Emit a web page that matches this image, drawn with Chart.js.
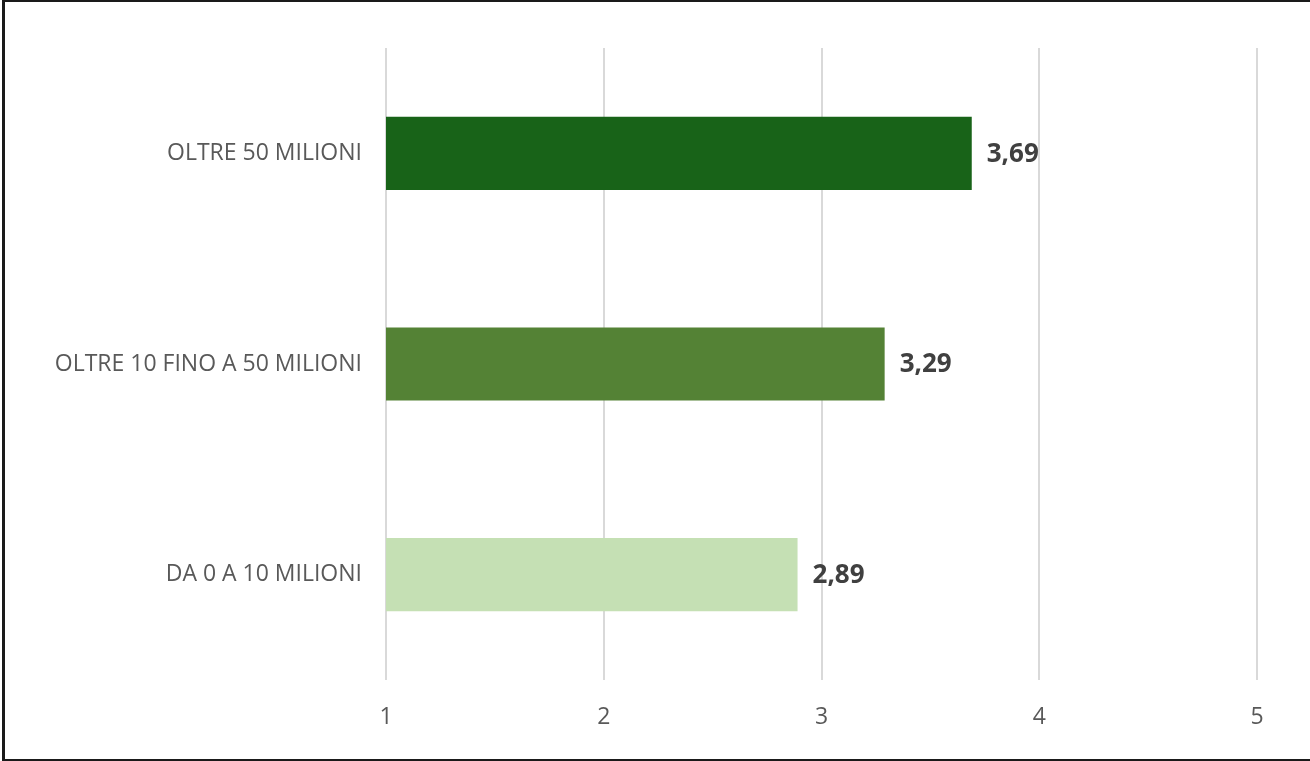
<!DOCTYPE html>
<html>
<head>
<meta charset="utf-8">
<script src="https://cdn.jsdelivr.net/npm/chart.js@4/dist/chart.umd.min.js"></script>
<style>
  body { margin: 0; background: #fff; }
  #wrap { position: relative; width: 1310px; height: 761px; }
  #frame {
    position: absolute; left: 2px; top: 0; width: 1306px; height: 757px;
    border-left: 3px solid #1a1a1a; border-top: 2px solid #1a1a1a;
    border-bottom: 2px solid #1a1a1a; border-right: 1px solid #d0d0d0;
    box-sizing: content-box; pointer-events: none;
  }
  canvas { position: absolute; left: 0; top: 0; }
</style>
</head>
<body>
<div id="wrap">
  <canvas id="graf" width="1310" height="761"></canvas>
  <div id="frame"></div>
</div>
<script>
// dati del grafico
const categorie = ["OLTRE 50 MILIONI", "OLTRE 10 FINO A 50 MILIONI", "DA 0 A 10 MILIONI"];
const valori = [3.69, 3.29, 2.89];
const colori = ["#186318", "#548235", "#c5e0b4"];
const tickX = [1, 2, 3, 4, 5];

// etichette dei valori a destra delle barre
const etichette = {
  id: "etichette",
  afterDatasetsDraw(chart) {
    const ctx = chart.ctx;
    const meta = chart.getDatasetMeta(0);
    ctx.save();
    ctx.font = "bold 26px 'Open Sans'";
    ctx.fillStyle = "#404040";
    ctx.textBaseline = "middle";
    ctx.textAlign = "left";
    meta.data.forEach(function(bar, i) {
      ctx.fillText(valori[i].toFixed(2).replace(".", ","), bar.x + 15, bar.y + 1);
    });
    ctx.restore();
  }
};

new Chart(document.getElementById("graf"), {
  type: "bar",
  data: {
    labels: categorie,
    datasets: [{
      data: valori,
      backgroundColor: colori,
      borderWidth: 0,
      barPercentage: 0.347,
      categoryPercentage: 1
    }]
  },
  options: {
    indexAxis: "y",
    responsive: false,
    animation: false,
    layout: { padding: { left: 0, right: 53, top: 48, bottom: 0 } },
    plugins: { legend: { display: false }, tooltip: { enabled: false } },
    scales: {
      x: {
        min: 1,
        max: 5,
        afterFit: function(s) { s.height = 81; },
        afterBuildTicks: function(s) { s.ticks = tickX.map(v => ({ value: v })); },
        border: { display: false },
        grid: { color: "#d9d9d9", lineWidth: 2, drawTicks: false },
        ticks: {
          padding: 24,
          color: "#595959",
          font: { family: "Open Sans", size: 23 }
        }
      },
      y: {
        afterFit: function(s) { s.width = 386; },
        border: { display: false },
        grid: { display: false },
        ticks: {
          padding: 16,
          color: "#595959",
          font: { family: "Open Sans", size: 23 }
        }
      }
    }
  },
  plugins: [etichette]
});
</script>
</body>
</html>
